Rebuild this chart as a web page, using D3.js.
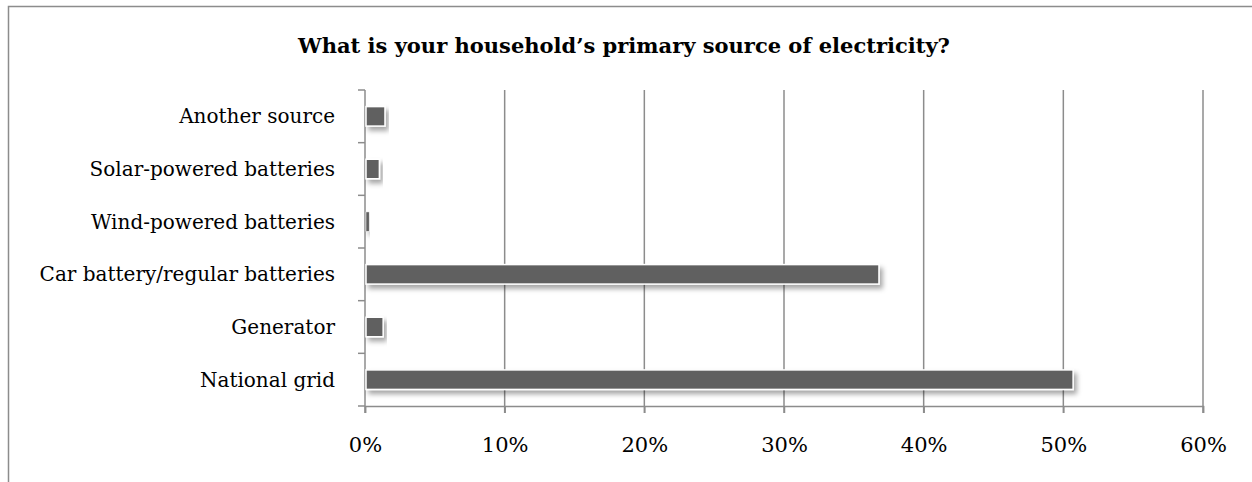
<!DOCTYPE html>
<html><head><meta charset="utf-8">
<script src="https://cdn.jsdelivr.net/npm/d3@7"></script>
<style>
body{margin:0;background:#fff;}
svg{display:block;}
</style></head>
<body>
<svg id="chart" width="1252" height="482"></svg>
<script>
const title = "What is your household\u2019s primary source of electricity?";
const categories = ["Another source","Solar-powered batteries","Wind-powered batteries","Car battery/regular batteries","Generator","National grid"];
const values = [0.0143, 0.0103, 0.003, 0.368, 0.013, 0.507];
const tickValues = [0,0.1,0.2,0.3,0.4,0.5,0.6];

const svg = d3.select("#chart");
const labelFont = "'DejaVu Serif', serif";
const margin = {left:365, right:49, top:90, bottom:76};
const W = 1252, H = 482;

// frame
svg.append("path").attr("d", `M8.5,${H} V6.5 H${W}`).attr("fill","none").attr("stroke","#8c8c8c").attr("stroke-width",1.5);

const x = d3.scaleLinear().domain([0,0.6]).range([margin.left, W - margin.right]);
const y = d3.scaleBand().domain(categories).range([margin.top, H - margin.bottom]).paddingInner(0.63).paddingOuter(0.315);
const yb = d3.scaleBand().domain(categories).range([margin.top, H - margin.bottom]);

const defs = svg.append("defs");
const f = defs.append("filter").attr("id","shadow").attr("x","-20%").attr("y","-50%").attr("width","140%").attr("height","250%");
f.append("feDropShadow").attr("dx",3).attr("dy",4).attr("stdDeviation",2.5).attr("flood-color","#000").attr("flood-opacity",0.35);

// gridlines
svg.append("g").selectAll("line").data(tickValues.slice(1)).join("line")
  .attr("x1",d=>x(d)).attr("x2",d=>x(d)).attr("y1",margin.top).attr("y2",H - margin.bottom + 7)
  .attr("stroke","#8c8c8c").attr("stroke-width",1.5);

// x axis
const xAxis = d3.axisBottom(x).tickValues(tickValues).tickFormat(d3.format(".0%")).tickSize(7).tickPadding(24);
const gx = svg.append("g").attr("transform",`translate(0,${H - margin.bottom})`).call(xAxis);
gx.select(".domain").attr("stroke","#8c8c8c").attr("stroke-width",1.5);
gx.selectAll(".tick line").attr("stroke","#8c8c8c").attr("stroke-width",1.5);
gx.selectAll("text").attr("font-family",labelFont).attr("font-size",21).attr("fill","#000");

// y axis line + ticks at band boundaries
svg.append("line").attr("x1",x(0)).attr("x2",x(0)).attr("y1",margin.top).attr("y2",H-margin.bottom+7)
  .attr("stroke","#8c8c8c").attr("stroke-width",1.5);
const bounds = categories.map(c=>yb(c)).concat([H-margin.bottom]);
svg.append("g").selectAll("line").data(bounds).join("line")
  .attr("x1",x(0)-7).attr("x2",x(0)).attr("y1",d=>d).attr("y2",d=>d)
  .attr("stroke","#8c8c8c").attr("stroke-width",1.5);

// labels
svg.append("g").selectAll("text").data(categories).join("text")
  .attr("x", x(0) - 30).attr("y", d=>yb(d)+yb.bandwidth()/2).attr("dy","0.35em")
  .attr("text-anchor","end").attr("font-family",labelFont).attr("font-size",20).attr("fill","#000")
  .text(d=>d);

// bars
svg.append("g").selectAll("rect").data(values).join("rect")
  .attr("x", x(0)+1).attr("y",(d,i)=>y(categories[i]))
  .attr("width",d=>Math.max(1, x(d)-x(0)-1)).attr("height",y.bandwidth())
  .attr("fill","#606060").attr("stroke","#fff").attr("stroke-width",(d,i)=>d<0.005?0.5:1.5)
  .attr("filter","url(#shadow)");

// title
svg.append("text").attr("x",624).attr("y",53).attr("text-anchor","middle")
  .attr("font-family",labelFont).attr("font-weight","bold").attr("font-size",21).attr("fill","#000").text(title);
</script>
</body></html>
